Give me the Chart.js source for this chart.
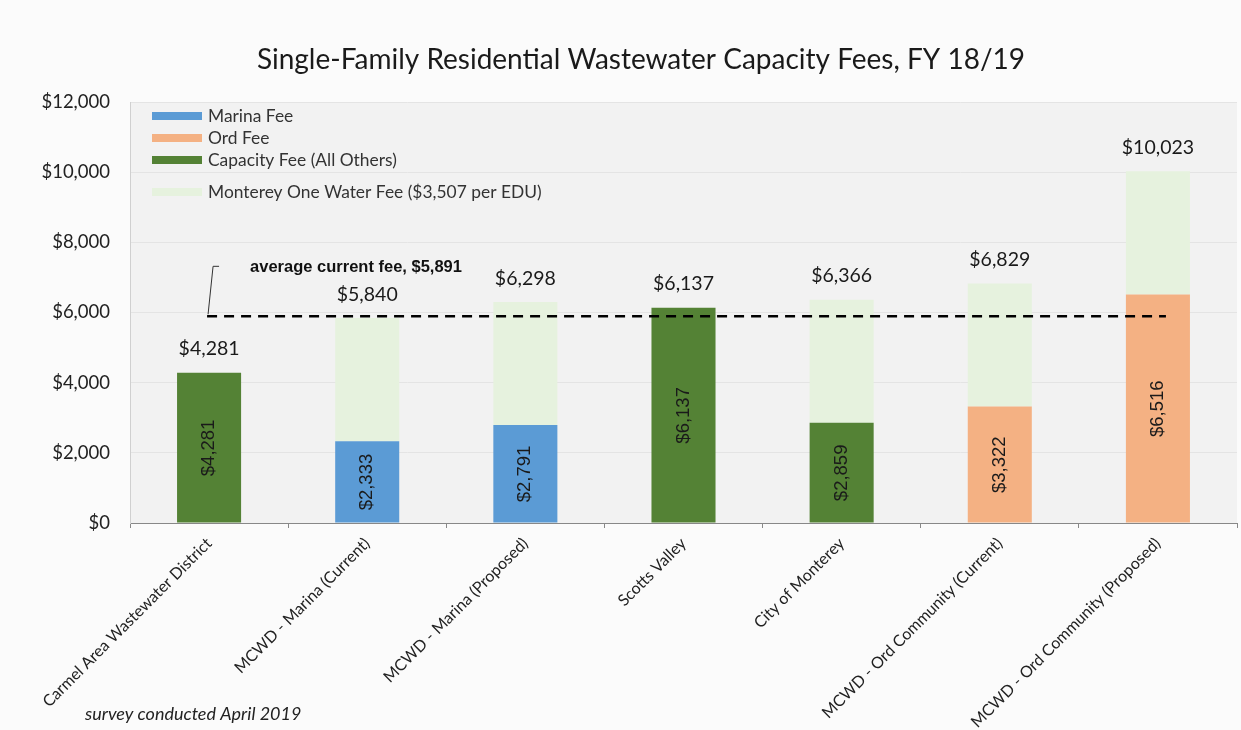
<!DOCTYPE html>
<html>
<head>
<meta charset="utf-8">
<script src="https://cdn.jsdelivr.net/npm/chart.js@4"></script>
<style>
  html, body { margin: 0; padding: 0; background: #fbfbfb; }
  #wrap { width: 1241px; height: 730px; position: relative; }
</style>
</head>
<body>
<div id="wrap"><canvas id="feeChart"></canvas></div>
<script>
const categories = [
    'Carmel Area Wastewater District',
    'MCWD - Marina (Current)',
    'MCWD - Marina (Proposed)',
    'Scotts Valley',
    'City of Monterey',
    'MCWD - Ord Community (Current)',
    'MCWD - Ord Community (Proposed)'
];
const marinaFee = [null, 2333, 2791, null, null, null, null];
const ordFee = [null, null, null, null, null, 3322, 6516];
const capacityFee = [4281, null, null, 6137, 2859, null, null];
const montereyOneFee = [null, 3507, 3507, null, 3507, 3507, 3507];
const averageFee = 5891;
const yMax = 12000;
const yStep = 2000;
const chartTitle = 'Single-Family Residential Wastewater Capacity Fees, FY 18/19';

const money = v => '$' + Math.round(v).toLocaleString('en-US');
const FONT = 'Lato, "Open Sans", sans-serif';

// plot background + title
const plotBg = {
    id: 'plotBg',
    beforeDraw(chart) {
        const { ctx, chartArea: a } = chart;
        ctx.save();
        ctx.fillStyle = '#f2f2f2';
        ctx.fillRect(a.left, a.top, a.right - a.left, a.bottom - a.top);
        ctx.fillStyle = '#1a1a1a';
        ctx.font = '28px ' + FONT;
        ctx.textAlign = 'center';
        ctx.textBaseline = 'middle';
        ctx.fillText(chartTitle, 641, 60);
        ctx.restore();
    }
};

// totals on top, base fee rotated inside the bar, average line, legend, footnote
const annotations = {
    id: 'annotations',
    afterDatasetsDraw(chart) {
        const { ctx, scales: { x, y }, chartArea: a } = chart;
        const baseSets = [0, 1, 2];
        ctx.save();

        categories.forEach((c, i) => {
            let base = 0;
            baseSets.forEach(d => { if (chart.data.datasets[d].data[i]) base = chart.data.datasets[d].data[i]; });
            const total = base + (montereyOneFee[i] || 0);
            const cx = x.getPixelForValue(i);

            ctx.fillStyle = '#1a1a1a';
            ctx.font = '19.5px ' + FONT;
            ctx.textAlign = 'center';
            ctx.textBaseline = 'bottom';
            ctx.fillText(money(total), cx, y.getPixelForValue(total) - 14);

            // inside label
            const midY = (y.getPixelForValue(0) + y.getPixelForValue(base)) / 2;
            ctx.save();
            ctx.translate(cx, midY);
            ctx.rotate(-Math.PI / 2);
            ctx.font = '18.5px "Liberation Sans", Arial, sans-serif';
            ctx.textBaseline = 'middle';
            ctx.fillStyle = '#1a1a1a';
            ctx.fillText(money(base), 0, 0);
            ctx.restore();
        });

        // average line
        const ay = y.getPixelForValue(averageFee);
        const x0 = x.getPixelForValue(0) - 2;
        const x1 = x.getPixelForValue(categories.length - 1) + 8;
        ctx.strokeStyle = '#000';
        ctx.lineWidth = 2.5;
        ctx.setLineDash([10, 7]);
        ctx.beginPath();
        ctx.moveTo(x0, ay);
        ctx.lineTo(x1, ay);
        ctx.stroke();
        ctx.setLineDash([]);
        ctx.lineWidth = 1;
        ctx.strokeStyle = '#333';
        ctx.beginPath();
        ctx.moveTo(x0 + 1, ay - 2);
        ctx.lineTo(x0 + 6, ay - 50);
        ctx.lineTo(x0 + 12, ay - 50);
        ctx.stroke();
        ctx.fillStyle = '#111';
        ctx.font = 'bold 16.5px "Liberation Sans", Arial, sans-serif';
        ctx.textAlign = 'left';
        ctx.textBaseline = 'middle';
        ctx.fillText('average current fee, ' + money(averageFee), x0 + 43, ay - 49);

        // legend
        const colors = chart.data.datasets.map(d => d.backgroundColor);
        ctx.font = '17.4px ' + FONT;
        ctx.textBaseline = 'middle';
        chart.data.datasets.forEach((d, i) => {
            const ly = a.top + 14 + i * 22 + (i === 3 ? 10 : 0);
            ctx.fillStyle = colors[i];
            ctx.fillRect(a.left + 22, ly - 4, 50, 8);
            ctx.fillStyle = '#333';
            ctx.fillText(d.label, a.left + 78, ly);
        });

        // footnote
        ctx.font = 'italic 18px ' + FONT;
        ctx.fillStyle = '#222';
        ctx.fillText('survey conducted April 2019', 85, 714);
        ctx.restore();
    }
};

new Chart(document.getElementById('feeChart'), {
    type: 'bar',
    data: {
        labels: categories,
        datasets: [{
            label: 'Marina Fee',
            data: marinaFee,
            backgroundColor: '#5b9bd5',
        }, {
            label: 'Ord Fee',
            data: ordFee,
            backgroundColor: '#f4b183',
        }, {
            label: 'Capacity Fee (All Others)',
            data: capacityFee,
            backgroundColor: '#548235',
        }, {
            label: 'Monterey One Water Fee ($3,507 per EDU)',
            data: montereyOneFee,
            backgroundColor: '#e6f2de',
        }]
    },
    options: {
        responsive: true,
        maintainAspectRatio: false,
        animation: false,
        datasets: {
            bar: { categoryPercentage: 1, barPercentage: 0.405 }
        },
        layout: { padding: { left: 0, right: 4, top: 102, bottom: 0 } },
        scales: {
            x: {
                stacked: true,
                afterFit: s => { s.height = 207; },
                grid: { offset: true, drawOnChartArea: false, color: '#888', tickLength: 5 },
                border: { color: '#888' },
                ticks: {
                    minRotation: 45, maxRotation: 45, autoSkip: false,
                    padding: 6,
                    color: '#222',
                    font: { family: FONT, size: 16 }
                }
            },
            y: {
                stacked: true,
                min: 0, max: yMax,
                afterFit: s => { s.width = 130; },
                grid: { color: '#e4e4e4', drawTicks: false },
                border: { color: '#d0d0d0' },
                ticks: {
                    stepSize: yStep,
                    padding: 20,
                    color: '#222',
                    font: { family: FONT, size: 18.5 },
                    callback: v => money(v)
                }
            }
        },
        plugins: {
            legend: { display: false },
            tooltip: { enabled: false },
            title: { display: false }
        }
    },
    plugins: [plotBg, annotations]
});
</script>
</body>
</html>
